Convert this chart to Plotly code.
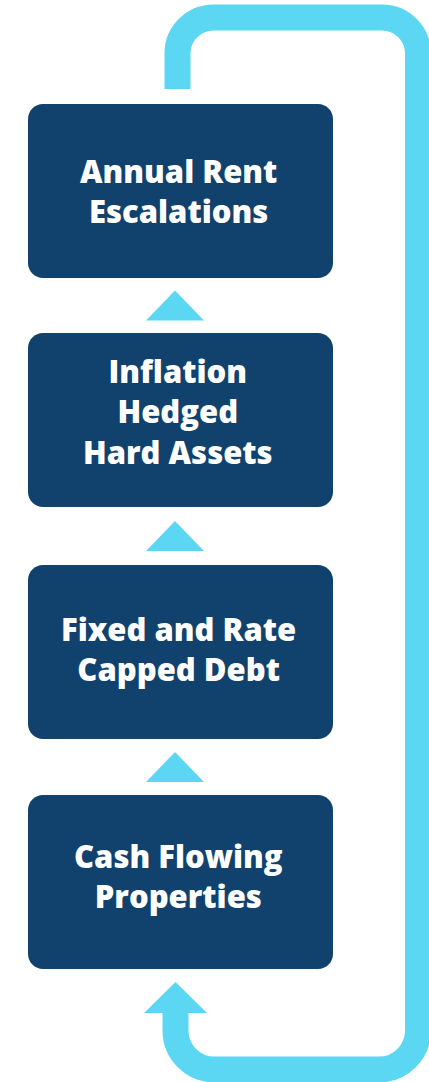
"""Cycle diagram: rent escalation flywheel built from Plotly shapes."""

import plotly.graph_objects as go

# data: stage labels, bottom to top
STAGES = [
    "Cash Flowing<br>Properties",
    "Fixed and Rate<br>Capped Debt",
    "Inflation<br>Hedged<br>Hard Assets",
    "Annual Rent<br>Escalations",
]

# layout constants (pixels, 1:1 with the axes)
W, H = 429, 1082
NAVY = "#11426d"
CYAN = "#5bd7f4"
BOX_X0, BOX_X1 = 28, 333
BOX_TOPS = [795, 565, 333, 104]
LABEL_SHIFTS = [6, 3, 9, 0]  # nudge text up (px)
BOX_H = 174
BOX_R = 15
TRI_HALF, TRI_H = 29, 30
KAPPA = 0.5523


def rounded_rect(x0, y0, x1, y1, r):
    k = r * (1 - KAPPA)
    return (
        f"M {x0 + r} {y0} L {x1 - r} {y0} "
        f"C {x1 - k} {y0} {x1} {y0 + k} {x1} {y0 + r} "
        f"L {x1} {y1 - r} "
        f"C {x1} {y1 - k} {x1 - k} {y1} {x1 - r} {y1} "
        f"L {x0 + r} {y1} "
        f"C {x0 + k} {y1} {x0} {y1 - k} {x0} {y1 - r} "
        f"L {x0} {y0 + r} "
        f"C {x0} {y0 + k} {x0 + k} {y0} {x0 + r} {y0} Z"
    )


def triangle(cx, y_base, half, h):
    return f"M {cx - half} {y_base} L {cx} {y_base - h} L {cx + half} {y_base} Z"


fig = go.Figure()
shapes = []
annotations = []

# boxes + labels
for label, top, shift in zip(STAGES, BOX_TOPS, LABEL_SHIFTS):
    shapes.append(
        dict(
            type="path",
            path=rounded_rect(BOX_X0, top, BOX_X1, top + BOX_H, BOX_R),
            fillcolor=NAVY,
            line=dict(width=0),
            layer="below",
        )
    )
    annotations.append(
        dict(
            x=178,
            y=top + BOX_H / 2,
            yshift=shift,
            text=label,
            showarrow=False,
            font=dict(family="Open Sans, sans-serif", size=31, color="white", weight=800),
            align="center",
        )
    )

# small arrows between boxes
for i in range(len(BOX_TOPS) - 1):
    gap_top = BOX_TOPS[i + 1] + BOX_H
    gap_bot = BOX_TOPS[i]
    mid = (gap_top + gap_bot) / 2
    shapes.append(
        dict(
            type="path",
            path=triangle(175, mid + TRI_H / 2, TRI_HALF, TRI_H),
            fillcolor=CYAN,
            line=dict(width=0),
        )
    )

# return loop
lx_top, lx_bot, rx = 177.5, 175.5, 418
ty, by = 17.5, 1069.5
rt, rb = 36, 39
kt, kb = rt * KAPPA, rb * KAPPA
loop = (
    f"M {lx_top} 89 L {lx_top} {ty + rt} "
    f"C {lx_top} {ty + rt - kt} {lx_top + rt - kt} {ty} {lx_top + rt} {ty} "
    f"L {rx - rt} {ty} "
    f"C {rx - rt + kt} {ty} {rx} {ty + rt - kt} {rx} {ty + rt} "
    f"L {rx} {by - rb} "
    f"C {rx} {by - rb + kb} {rx - rb + kb} {by} {rx - rb} {by} "
    f"L {lx_bot + rb} {by} "
    f"C {lx_bot + rb - kb} {by} {lx_bot} {by - rb + kb} {lx_bot} {by - rb} "
    f"L {lx_bot} 1012"
)
shapes.append(dict(type="path", path=loop, line=dict(color=CYAN, width=26)))
shapes.append(
    dict(
        type="path",
        path="M 144 1013 L 175.5 982 L 207 1013 Z",
        fillcolor=CYAN,
        line=dict(width=0),
    )
)

fig.update_layout(
    width=W,
    height=H,
    margin=dict(l=0, r=0, t=0, b=0),
    paper_bgcolor="white",
    plot_bgcolor="white",
    showlegend=False,
    shapes=shapes,
    annotations=annotations,
    xaxis=dict(range=[0, W], visible=False, fixedrange=True),
    yaxis=dict(range=[H, 0], visible=False, fixedrange=True),
)

fig.write_html(
    "out.html",
    config={"displayModeBar": False},
    post_script="document.body.style.margin='0';document.body.style.overflow='hidden';",
)
